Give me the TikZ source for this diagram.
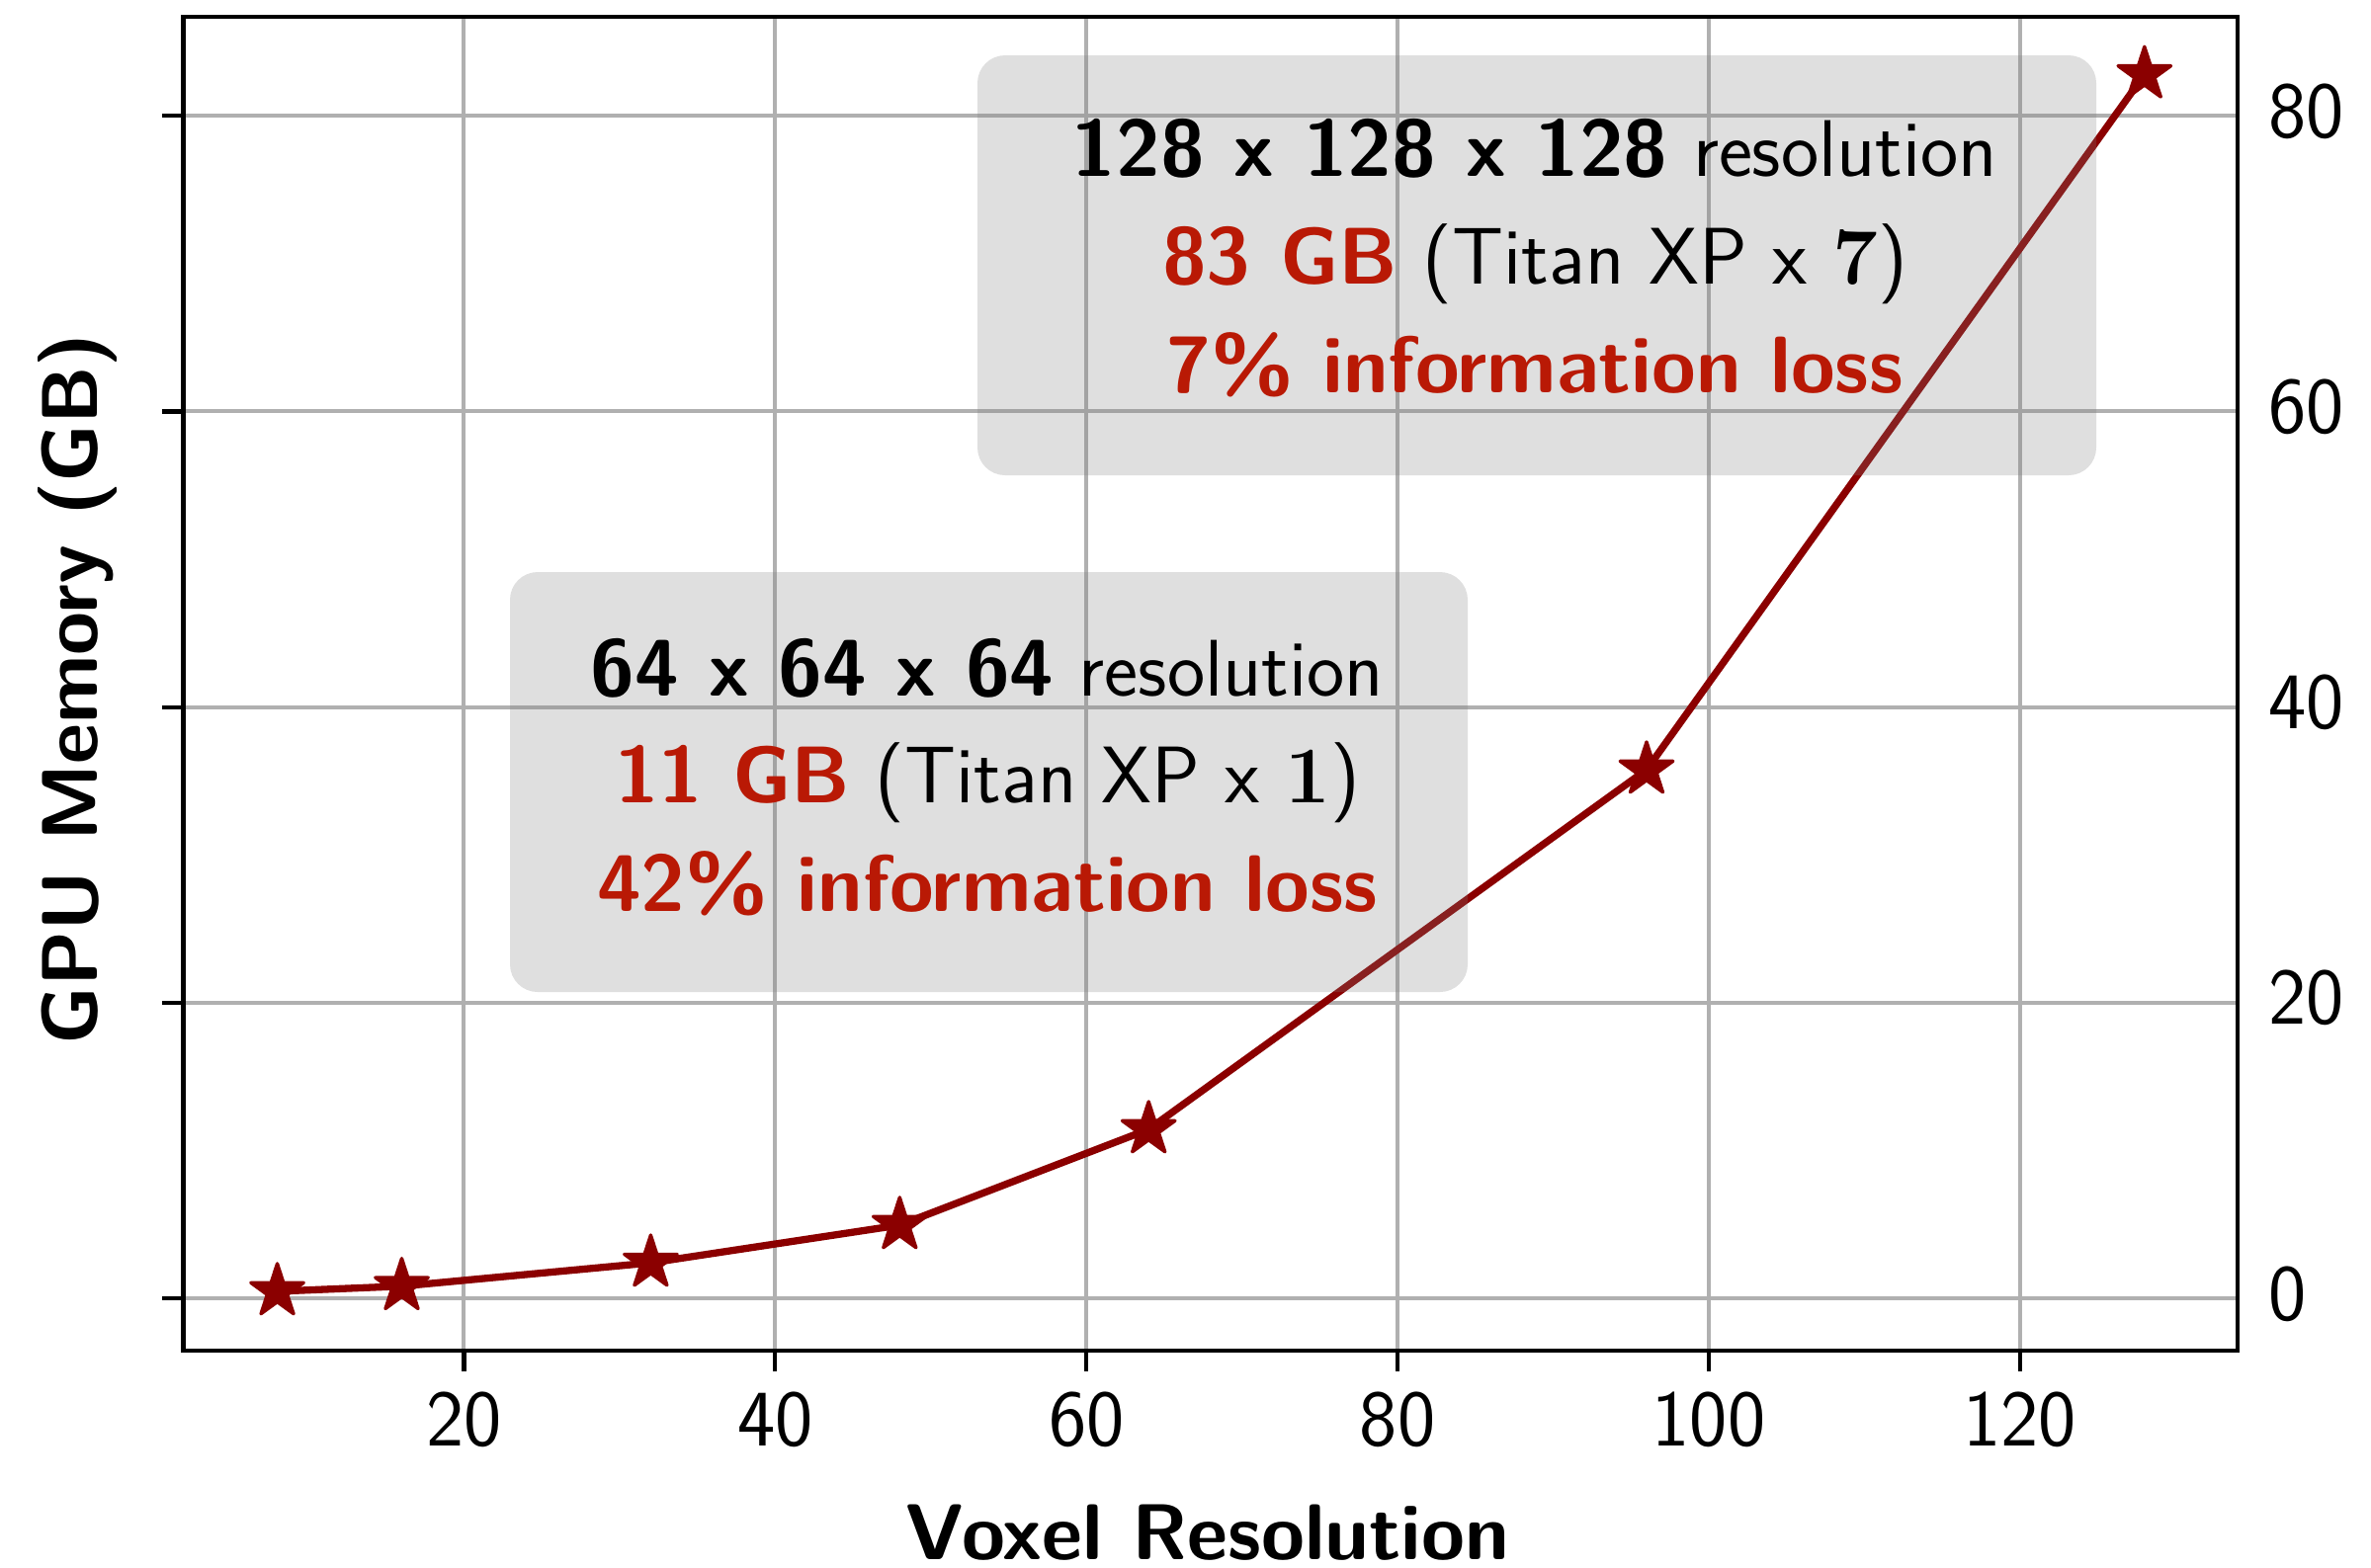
\documentclass[tikz,border=0pt]{standalone}
\usetikzlibrary{shapes.geometric}
\definecolor{lineRed}{RGB}{139,0,0}
\definecolor{noteRed}{RGB}{185,25,5}
\definecolor{gridGray}{RGB}{176,176,176}
\begin{document}
\begin{tikzpicture}[x=0.24pt,y=-0.24pt,
  every node/.style={inner sep=0pt, outer sep=0pt},
  ticklab/.style={font=\fontsize{19.5}{23}\selectfont\sffamily},
  axlab/.style={font=\fontsize{19.2}{23}\selectfont\sffamily\bfseries, text depth=0pt},
  notetext/.style={font=\fontsize{19.5}{23}\selectfont\sffamily, anchor=base},
  notebox/.style={draw=none, fill=black!50, fill opacity=0.25, rounded corners=6.7pt, minimum height=102pt},
  starmark/.style={star, star points=5, star point ratio=2.618, fill=lineRed, draw=lineRed,
    line width=0.8pt, line join=round, minimum size=13.5pt, inner sep=0pt},
  gridline/.style={draw=gridGray, line width=0.96pt},
  spine/.style={line width=1pt, draw=black},
  curve/.style={draw=lineRed, line width=1.75pt, line join=round},
]
\useasboundingbox (0,0) rectangle (2399,1586);

% plotting area in data units (x: voxel resolution, y: GB)
\begin{scope}[shift={(154.6,1314)}, x=3.77856pt, y=3.5904pt]
  \coordinate (ll) at (1.96,-3.54);
  \coordinate (ur) at (133.98,86.7);

  % grid
  \foreach \gx in {20,40,...,120}
    \draw[gridline] (\gx,-3.54) -- (\gx,86.7);
  \foreach \gy in {0,20,...,80}
    \draw[gridline] (1.96,\gy) -- (133.98,\gy);

  % measured memory
  \coordinate (d1) at (8,0.47);
  \coordinate (d2) at (16,0.82);
  \coordinate (d3) at (32,2.4);
  \coordinate (d4) at (48,4.95);
  \coordinate (d5) at (64,11.43);
  \coordinate (d6) at (96,35.76);
  \coordinate (d7) at (128,82.8);
  \draw[curve] (d1) -- (d2) -- (d3) -- (d4) -- (d5) -- (d6) -- (d7);
  \foreach \i in {1,...,7}
    \node[starmark] (s\i) at (d\i) {};

  % ticks and tick labels
  \foreach \gx in {20,40,...,120} {
    \draw[spine] (\gx,-3.54) -- ++(0,-5.04pt);
    \node[ticklab, anchor=base] (xt\gx) at ([yshift=-23.28pt]\gx,-3.54) {\gx};
  }
  \foreach \gy in {0,20,...,80} {
    \draw[spine] (1.96,\gy) -- ++(-5.04pt,0);
    \node[ticklab, anchor=base west] (yt\gy) at ([xshift=7.56pt,yshift=-5.28pt]133.98,\gy) {\gy};
  }
\end{scope}

% annotation boxes
\node[notebox, minimum width=232.56pt] (box1) at (1000.5,791.5) {};
\node[notebox, minimum width=271.68pt] (box2) at (1555,268.5) {};

\node[notetext] (b1a) at (999,704) {{\bfseries 64 x 64 x 64} resolution};
\node[notetext] (b1b) at (999,812) {{\bfseries\color{noteRed}11 GB} (Titan XP x {\rmfamily\bfseries 1})};
\node[notetext] (b1c) at (999,922) {\bfseries\color{noteRed}42\% information loss};

\node[notetext] (b2a) at (1553,178) {{\bfseries 128 x 128 x 128} resolution};
\node[notetext] (b2b) at (1553,287) {{\bfseries\color{noteRed}83 GB} (Titan XP x {\rmfamily\bfseries 7})};
\node[notetext] (b2c) at (1553,397) {\bfseries\color{noteRed}7\% information loss};

% frame
\draw[spine] (ll) rectangle (ur);

% axis titles
\node[axlab, anchor=base] (xlabel) at (1222,1578) {Voxel Resolution};
\node[axlab, anchor=base, rotate=90] (ylabel) at (98,697) {GPU Memory (GB)};
\end{tikzpicture}
\end{document}
